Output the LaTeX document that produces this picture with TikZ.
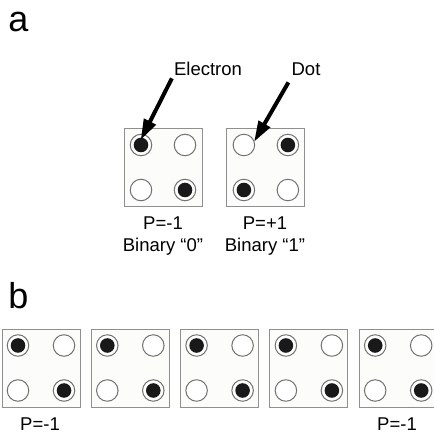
\documentclass[tikz,border=0pt]{standalone}
\usepackage{fontspec}
\setmainfont{Liberation Sans}
\usetikzlibrary{positioning, calc}
\definecolor{borde}{HTML}{8F8F8F}
\definecolor{fondo}{HTML}{FCFCFA}
\tikzset{Cell style/.style={draw=borde, fill=fondo, line width=0.9pt, minimum size=78pt, inner sep=0pt}}
\tikzset{Dot style/.style={draw=borde!80!black, fill=white, circle, line width=1pt, minimum size=21.5pt, inner sep=0pt}}
\tikzset{Electron style/.style={Dot style, path picture={\fill[black!90] (path picture bounding box.center) circle (7.3pt);}}}
\tikzset{
	x=1pt, y=1pt, % Unidades en puntos
	Label style/.style={font=\fontsize{18.5}{22}\selectfont, anchor=base, inner sep=2pt}, % Textos
	Panel style/.style={font=\fontsize{36}{40}\selectfont, anchor=base}, % Letras a y b
}
% Flecha gruesa rellena, de #1 a #2
\newcommand{\flecha}[2]{
	\coordinate (head) at ($(#2)!20pt!(#1)$);
	\fill[black] ($(#1)!2pt!90:(#2)$) -- ($(head)!2pt!-90:(#1)$) -- ($(head)!7pt!-90:(#1)$)
		-- (#2) -- ($(head)!7pt!90:(#1)$) -- ($(head)!2pt!90:(#1)$) -- ($(#1)!2pt!-90:(#2)$) -- cycle;
}

\begin{document}
\begin{tikzpicture}
	\useasboundingbox (0,0) rectangle (434,434);
	\clip (0,0) rectangle (434,434);
	\node[Panel style] (panel_a) at (18.5,402) {a};
	\node[Panel style] (panel_b) at (18.5,125) {b};

	\node[Cell style] (zero) at (163,266.5) {};
	\node[Cell style, right=24pt of zero] (one) {};
	\node[Electron style] (zero_tl) at ([shift={(-22,22.5)}]zero.center) {};
	\node[Dot style] (zero_tr) at ([shift={(22,22.5)}]zero.center) {};
	\node[Dot style] (zero_bl) at ([shift={(-22,-22.5)}]zero.center) {};
	\node[Electron style] (zero_br) at ([shift={(22,-22.5)}]zero.center) {};
	\node[Dot style] (one_tl) at ([shift={(-22,22.5)}]one.center) {};
	\node[Electron style] (one_tr) at ([shift={(22,22.5)}]one.center) {};
	\node[Electron style] (one_bl) at ([shift={(-22,-22.5)}]one.center) {};
	\node[Dot style] (one_br) at ([shift={(22,-22.5)}]one.center) {};

	\node[Label style] (electron_label) at (208,358) {Electron};
	\node[Label style] (dot_label) at (306,358) {Dot};
	\node[Label style] (zero_p) at (163,204) {P=-1};
	\node[Label style] (zero_bin) at (163,182.3) {Binary “0”};
	\node[Label style] (one_p) at (265,204) {P=+1};
	\node[Label style] (one_bin) at (265,182.3) {Binary “1”};

	\flecha{electron_label.south west}{$(zero_tl.center)!0.5!(zero_tl.north)$}
	\flecha{$(dot_label.south west)+(-1,-4)$}{one_tl.20}

	\foreach \i in {1,...,5} {
		\node[Cell style] (row\i) at ({41+89.3*(\i-1)},66) {};
		\node[Electron style] (row\i-tl) at ([shift={(-23,22.5)}]row\i.center) {};
		\node[Dot style] (row\i-tr) at ([shift={(23,22.5)}]row\i.center) {};
		\node[Dot style] (row\i-bl) at ([shift={(-23,-22.5)}]row\i.center) {};
		\node[Electron style] (row\i-br) at ([shift={(23,-22.5)}]row\i.center) {};
	}
	\node[Label style] (first_p) at (40,4) {P=-1};
	\node[Label style] (last_p) at (397,4) {P=-1};
\end{tikzpicture}
\end{document}
